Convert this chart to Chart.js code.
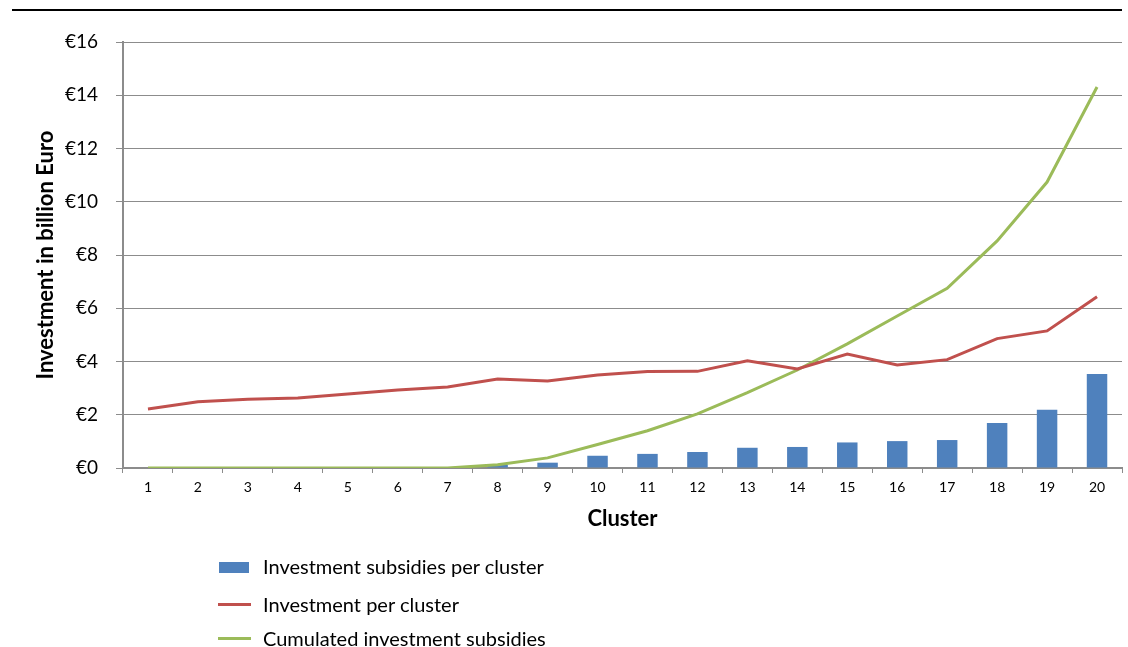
<!DOCTYPE html>
<html>
<head>
<meta charset="utf-8">
<script src="https://cdn.jsdelivr.net/npm/chart.js@4"></script>
<style>
  html, body { margin: 0; padding: 0; background: #fff; }
  #wrap { position: relative; width: 1128px; height: 647px; overflow: hidden; }
  #topline { position: absolute; left: 12px; top: 9px; width: 1110px; height: 2px; background: #000; }
  #chart { position: absolute; left: 0; top: 0; }
  #legend { position: absolute; left: 218px; top: 554px; font-family: Lato, "Open Sans", sans-serif; font-size: 20px; color: #000; }
  .li { position: absolute; left: 0; white-space: nowrap; height: 24px; line-height: 24px; }
  .sw { position: absolute; left: 0; }
  .lt { position: absolute; left: 45px; top: 0; }
</style>
</head>
<body>
<div id="wrap">
  <canvas id="chart" width="1128" height="647"></canvas>
  <div id="topline"></div>
  <div id="legend"></div>
</div>
<script>
const clusters = ["1","2","3","4","5","6","7","8","9","10","11","12","13","14","15","16","17","18","19","20"];
const subsidiesPerCluster = [0,0,0,0,0,0,0,0.12,0.2,0.46,0.53,0.6,0.76,0.79,0.96,1.01,1.05,1.69,2.19,3.53];
const investmentPerCluster = [2.22,2.49,2.58,2.63,2.78,2.93,3.04,3.34,3.27,3.49,3.62,3.63,4.03,3.72,4.28,3.87,4.07,4.86,5.15,6.43];
const cumulatedSubsidies = [0,0,0,0,0,0,0,0.12,0.38,0.88,1.40,2.03,2.83,3.68,4.66,5.71,6.75,8.53,10.74,14.31];
const seriesNames = ["Investment subsidies per cluster","Investment per cluster","Cumulated investment subsidies"];
const yTicks = [0,2,4,6,8,10,12,14,16];

const FONT = 'Lato, "Open Sans", sans-serif';
const gridColor = '#8c8c8c';

const chart = new Chart(document.getElementById('chart'), {
  data: {
    labels: clusters,
    datasets: [
      { type: 'line', label: seriesNames[1], data: investmentPerCluster, borderColor: '#C0504D', backgroundColor: '#C0504D', borderWidth: 3, pointRadius: 0, tension: 0, order: 1 },
      { type: 'line', label: seriesNames[2], data: cumulatedSubsidies, borderColor: '#9BBB59', backgroundColor: '#9BBB59', borderWidth: 3, pointRadius: 0, tension: 0, order: 2 },
      { type: 'bar', label: seriesNames[0], data: subsidiesPerCluster, backgroundColor: '#4F81BD', borderWidth: 0, barPercentage: 0.41, categoryPercentage: 1.0, order: 3 }
    ]
  },
  options: {
    responsive: false,
    animation: false,
    layout: { padding: { left: 0, right: 6, top: 42, bottom: 115 } },
    plugins: { legend: { display: false }, tooltip: { enabled: false } },
    scales: {
      x: {
        offset: true,
        grid: { display: true, drawOnChartArea: false, drawTicks: true, tickLength: 5, color: gridColor, offset: true },
        border: { display: true, color: gridColor, width: 2 },
        ticks: { color: '#000', font: { family: FONT, size: 14 }, padding: 6, maxRotation: 0 },
        title: { display: true, text: 'Cluster', color: '#000', font: { family: FONT, size: 22, weight: 'bold' }, padding: { top: 0, bottom: 0 } },
        afterFit: (s) => { s.height = 64; }
      },
      y: {
        min: 0, max: 16,
        afterBuildTicks: (s) => { s.ticks = yTicks.map(v => ({ value: v })); },
        grid: { color: gridColor, tickLength: 7, lineWidth: 1 },
        border: { display: true, color: gridColor, width: 2 },
        ticks: { color: '#000', font: { family: FONT, size: 19 }, padding: 18, callback: (v) => '€' + v },
        title: { display: true, text: 'Investment in billion Euro', color: '#000', font: { family: FONT, size: 22, weight: 'bold' }, padding: { top: 33, bottom: 0 } },
        afterFit: (s) => { s.width = 123; }
      }
    }
  }
});

// HTML legend built from the chart's datasets
const legendOrder = [2, 0, 1];
const tops = [0, 38, 72];
const legend = document.getElementById('legend');
legendOrder.forEach((di, i) => {
  const ds = chart.data.datasets[di];
  const row = document.createElement('div');
  row.className = 'li';
  row.style.top = tops[i] + 'px';
  const sw = document.createElement('div');
  sw.className = 'sw';
  if (ds.type === 'bar') {
    sw.style.cssText = 'top:8px;width:30px;height:11px;left:1px;background:' + ds.backgroundColor;
  } else {
    sw.style.cssText = 'top:11px;width:33px;height:3px;background:' + ds.borderColor;
  }
  const t = document.createElement('div');
  t.className = 'lt';
  t.textContent = ds.label;
  row.appendChild(sw); row.appendChild(t);
  legend.appendChild(row);
});
</script>
</body>
</html>
